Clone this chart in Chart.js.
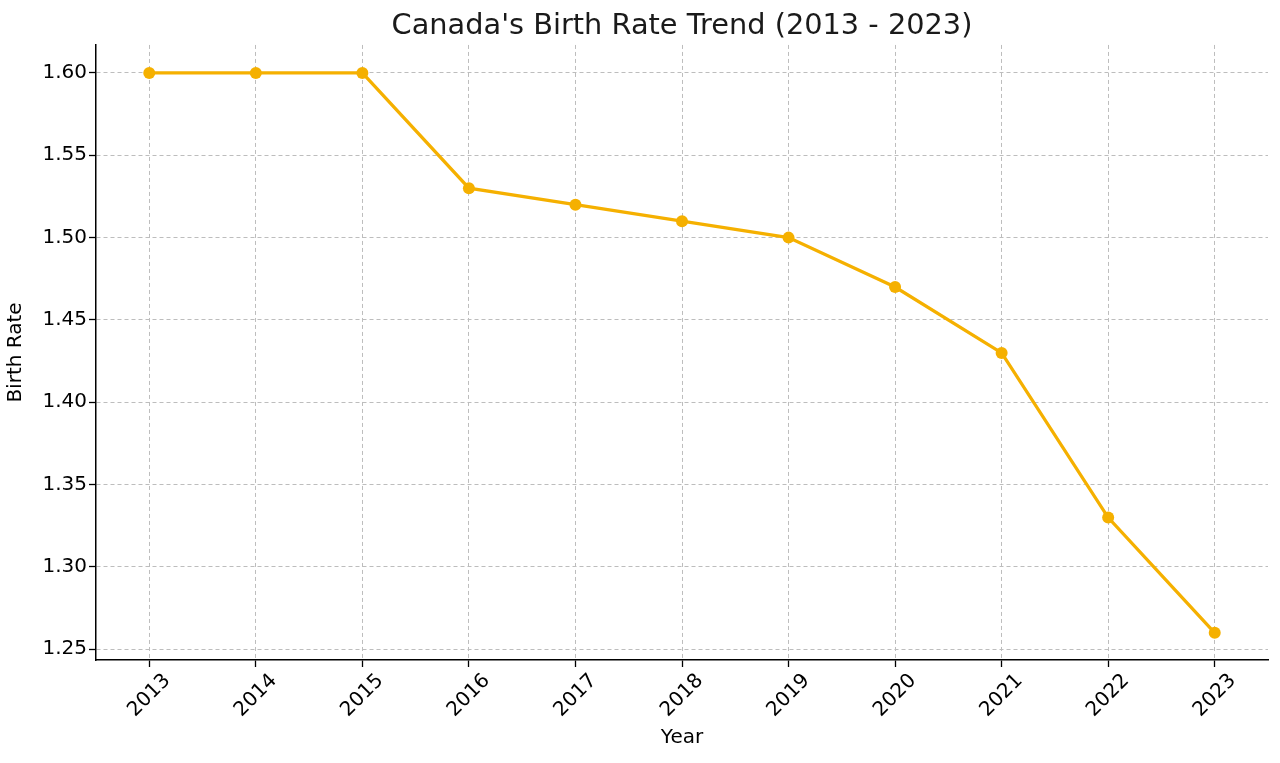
<!DOCTYPE html>
<html>
<head>
<meta charset="utf-8">
<script src="https://cdn.jsdelivr.net/npm/chart.js@4"></script>
<style>
  html, body { margin: 0; padding: 0; background: #fff; }
  #wrap { width: 1280px; height: 763px; }
</style>
</head>
<body>
<div id="wrap"><canvas id="birthChart" width="1280" height="763"></canvas></div>
<script>
// data
const years = ['2013', '2014', '2015', '2016', '2017', '2018', '2019', '2020', '2021', '2022', '2023'];
const birthRate = [1.60, 1.60, 1.60, 1.53, 1.52, 1.51, 1.50, 1.47, 1.43, 1.33, 1.26];
const yTicks = [1.25, 1.30, 1.35, 1.40, 1.45, 1.50, 1.55, 1.60];

const lineColor = '#f5b000';
const gridColor = '#bdbdbd';
const fontFamily = '"DejaVu Sans", sans-serif';

Chart.defaults.font.family = fontFamily;
Chart.defaults.color = '#000';

new Chart(document.getElementById("birthChart"), {
    type: 'line',
    data: {
        labels: years,
        datasets: [{
            label: 'Birth Rate',
            data: birthRate,
            borderColor: lineColor,
            backgroundColor: lineColor,
            borderWidth: 3.3,
            pointRadius: 6,
            pointBorderWidth: 0,
            pointBackgroundColor: lineColor,
            tension: 0,
            fill: false
        }]
    },
    options: {
        responsive: false,
        animation: false,
        layout: { padding: { left: 0, right: 12, top: 0, bottom: 0 } },
        plugins: {
            legend: { display: false },
            tooltip: { enabled: false },
            title: {
                display: true,
                fullSize: false,   // centre over the plot area, like the original
                text: "Canada's Birth Rate Trend (2013 - 2023)",
                font: { size: 28.8, weight: 'normal' },
                color: '#1a1a1a',
                padding: { top: 9, bottom: 1.4 }
            }
        },
        scales: {
            x: {
                type: 'category',
                offset: true,
                afterFit: function (scale) { scale.height = 103; },
                grid: {
                    display: true,
                    offset: false,
                    color: gridColor,
                    lineWidth: 1,
                    drawTicks: true,
                    tickLength: 7,
                    tickColor: '#000',
                    tickBorderDash: [],
                    tickWidth: 1.3
                },
                border: { display: true, color: '#000', width: 1.5, dash: [4, 3] },
                ticks: {
                    font: { size: 20 },
                    minRotation: 45,
                    maxRotation: 45,
                    labelOffset: 18,
                    padding: 2
                },
                title: {
                    display: true,
                    text: 'Year',
                    font: { size: 20 },
                    padding: { top: 0, bottom: 13 }
                }
            },
            y: {
                min: 1.2435,
                max: 1.617,
                afterFit: function (scale) { scale.width = 96; },
                afterBuildTicks: function (scale) {
                    scale.ticks = yTicks.map(v => ({ value: v }));
                },
                grid: {
                    color: gridColor,
                    lineWidth: 1,
                    drawTicks: true,
                    tickLength: 7,
                    tickColor: '#000',
                    tickBorderDash: [],
                    tickWidth: 1.3
                },
                border: { display: true, color: '#000', width: 1.5, dash: [4, 3] },
                ticks: {
                    font: { size: 20 },
                    padding: 2,
                    callback: v => v.toFixed(2)
                },
                title: {
                    display: true,
                    text: 'Birth Rate',
                    font: { size: 20 },
                    padding: { top: 4, bottom: 0 }
                }
            }
        }
    }
});
</script>
</body>
</html>
